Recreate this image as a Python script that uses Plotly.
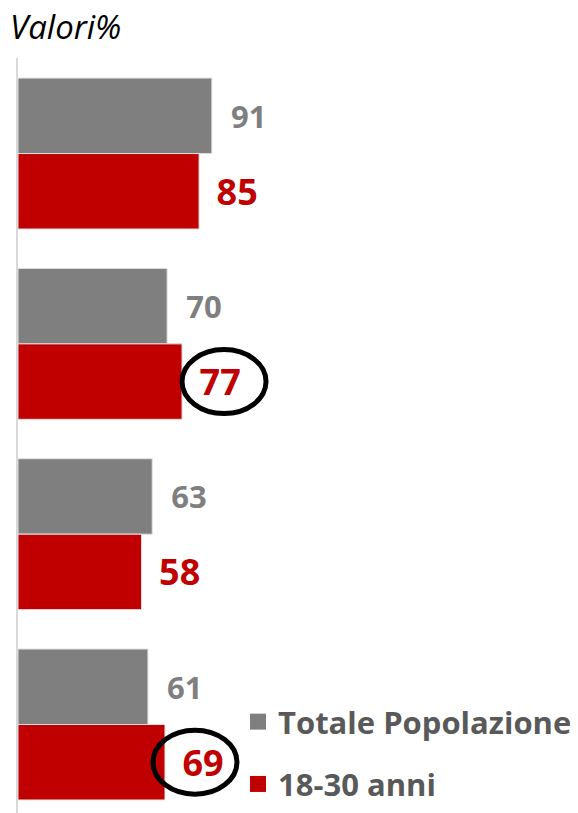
import plotly.graph_objects as go

categories = ["Voce 1", "Voce 2", "Voce 3", "Voce 4"]
series_names = ["Totale Popolazione", "18-30 anni"]
totale = [91, 70, 63, 61]
giovani = [85, 77, 58, 69]
highlighted = [1, 3]  # indices of the 18-30 values circled in the reference

GREY = "#7f7f7f"
RED = "#c00000"
FONT = "Open Sans"

# the page body adds an 8px margin, so the figure is drawn 8px smaller
W, H = 570, 805

fig = go.Figure()
fig.add_trace(go.Bar(
    y=categories, x=totale, orientation="h", name=series_names[0],
    marker=dict(color=GREY, line=dict(color="#e0e0e0", width=1)),
    text=["\u00a0\u00a0" + str(v) for v in totale], textposition="outside",
    textfont=dict(family=FONT, size=31, color=GREY, weight="bold"),
    constraintext="none", cliponaxis=False, showlegend=False,
))
fig.add_trace(go.Bar(
    y=categories, x=giovani, orientation="h", name=series_names[1],
    marker=dict(color=RED, line=dict(color="#e0e0e0", width=1)),
    text=["<span style='font-size:28px'>\u00a0\u00a0</span>" + str(v) for v in giovani],
    textposition="outside",
    textfont=dict(family=FONT, size=36, color=RED, weight="bold"),
    constraintext="none", cliponaxis=False, showlegend=False,
))
# legend entries with larger square symbols
for nm, col, grp in [(series_names[0], GREY, "a"), (series_names[1], RED, "b")]:
    fig.add_trace(go.Scatter(x=[None], y=[None], mode="markers", name=nm,
                             legendgroup=grp, hoverinfo="skip",
                             marker=dict(symbol="square", size=18, color=col)))

# circles around highlighted values
circle_dx = {1: 42, 3: 30}
for i in highlighted:
    dx = circle_dx[i]
    fig.add_shape(type="circle", xref="x", yref="y",
                  xsizemode="pixel", ysizemode="pixel",
                  xanchor=giovani[i], yanchor=i + 0.198,
                  x0=dx - 42, x1=dx + 42, y0=-32, y1=32,
                  line=dict(color="black", width=5))

fig.update_layout(
    width=W, height=H,
    margin=dict(l=10, r=0, t=50, b=0, autoexpand=False),
    paper_bgcolor="white", plot_bgcolor="white",
    barmode="group", bargap=0.207, bargroupgap=0,
    xaxis=dict(type="linear", range=[0, 262.9], visible=False, fixedrange=True),
    yaxis=dict(type="category", range=[3.465, -0.502], showticklabels=False, ticks="",
               showgrid=False, zeroline=False, showline=True,
               linecolor="#d9d9d9", linewidth=1.5, fixedrange=True),
    title=dict(text="Valori%", xref="container", yref="container",
               x=2 / W, y=1 - 19 / H, xanchor="left", yanchor="middle",
               font=dict(family=FONT, size=33, color="black", style="italic")),
    legend=dict(x=(230 - 10) / 560, y=2 / 755,
                xanchor="left", yanchor="bottom", bgcolor="rgba(0,0,0,0)",
                tracegroupgap=19,
                font=dict(family=FONT, size=31, color="#595959", weight="bold")),
    showlegend=True,
)

fig.write_html("out.html")
